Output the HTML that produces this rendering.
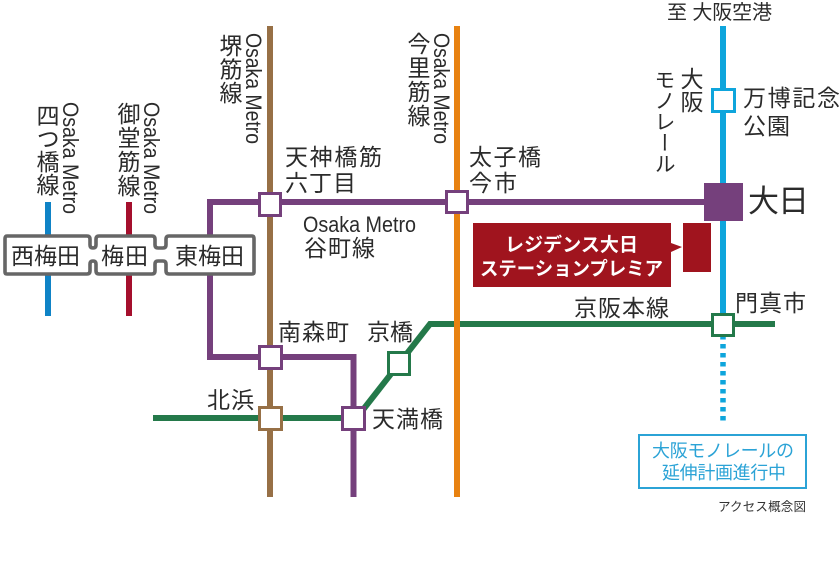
<!DOCTYPE html>
<html lang="ja">
<head>
<meta charset="utf-8">
<style>
html,body{margin:0;padding:0;background:#fff;}
#p{position:relative;width:840px;height:576px;overflow:hidden;background:#fff;font-family:"Liberation Sans","Noto Sans CJK JP",sans-serif;color:#2b2b2b;}
svg{position:absolute;left:0;top:0;}
svg text{font-family:"Liberation Sans","Noto Sans CJK JP",sans-serif;fill:#2b2b2b;}
.v{position:absolute;writing-mode:vertical-rl;font-family:"Noto Sans CJK JP",sans-serif;line-height:1;white-space:nowrap;font-size:23px;}
</style>
</head>
<body>
<div id="p">
<svg width="840" height="576" viewBox="0 0 840 576" xmlns="http://www.w3.org/2000/svg">
  <!-- short lines -->
  <rect x="45" y="202" width="6" height="114" fill="#0f83c6"/>
  <rect x="126" y="202" width="6" height="114" fill="#a50f2d"/>
  <!-- monorail -->
  <rect x="720" y="26" width="6" height="300" fill="#0ea5dc"/>
  <line x1="723" y1="335" x2="723" y2="425" stroke="#0ea5dc" stroke-width="5.5" stroke-dasharray="4.5 4.5"/>
  <!-- brown -->
  <rect x="267" y="26" width="6" height="471" fill="#977046"/>
  <!-- green -->
  <path d="M153 418H353" fill="none" stroke="#24794a" stroke-width="6"/>
  <path d="M355 420L430 324H775" fill="none" stroke="#24794a" stroke-width="6"/>
  <!-- orange -->
  <rect x="454" y="26" width="6" height="471" fill="#e88211"/>
  <!-- purple -->
  <path d="M710 202H210V357H353.5V497" fill="none" stroke="#75407c" stroke-width="6"/>
  <!-- Umeda box -->
  <path d="M7 236H87Q90 236 90 239V245Q90 248 93 248 Q96 248 96 245V239Q96 236 99 236H152Q155 236 155 239V245Q155 248 158 248H163Q166 248 166 245V239Q166 236 169 236H252Q254 236 254 239V272Q254 274 252 274H169Q166 274 166 271V264Q166 261 163 261H158Q155 261 155 264V271Q155 274 152 274H99Q96 274 96 271V264Q96 261 93 261 Q90 261 90 264V271Q90 274 87 274H7Q5 274 5 272V239Q5 236 7 236Z" fill="#fff" stroke="#666" stroke-width="3.6" stroke-linejoin="round"/>
  <!-- stations -->
  <rect x="259.5" y="193.5" width="21" height="22" fill="#fff" stroke="#75407c" stroke-width="3"/>
  <rect x="446.5" y="191.500" width="21" height="21" fill="#fff" stroke="#75407c" stroke-width="3"/>
  <rect x="259.5" y="346.500" width="22" height="22" fill="#fff" stroke="#75407c" stroke-width="3"/>
  <rect x="259.5" y="407.500" width="22" height="22" fill="#fff" stroke="#977046" stroke-width="3"/>
  <rect x="342.500" y="407.500" width="22" height="22" fill="#fff" stroke="#75407c" stroke-width="3"/>
  <rect x="388.500" y="352.500" width="21" height="22" fill="#fff" stroke="#24794a" stroke-width="3"/>
  <rect x="712.500" y="314.500" width="21" height="21" fill="#fff" stroke="#24794a" stroke-width="3"/>
  <rect x="712.500" y="89.500" width="22" height="22" fill="#fff" stroke="#0ea5dc" stroke-width="3"/>
  <rect x="704" y="183" width="39" height="38" fill="#75407c"/>
  <!-- callout -->
  <path d="M473 223H671V243L682 247L671 252V287H473Z" fill="#a0141e"/>
  <rect x="683" y="223" width="28" height="49" fill="#a0141e"/>
  <text x="505" y="251" font-size="19" font-weight="700" textLength="133" lengthAdjust="spacing" style="fill:#fff">レジデンス大日</text>
  <text x="480" y="275" font-size="19" font-weight="700" textLength="183" lengthAdjust="spacingAndGlyphs" style="fill:#fff">ステーションプレミア</text>
  <!-- Umeda labels -->
  <text x="11" y="264" font-size="23" textLength="69">西梅田</text>
  <text x="101" y="264" font-size="23" textLength="47">梅田</text>
  <text x="175" y="264" font-size="23" textLength="69">東梅田</text>
  <!-- Osaka Metro rotated -->
  <text transform="translate(63,102) rotate(90)" font-size="22" textLength="112" lengthAdjust="spacingAndGlyphs">Osaka Metro</text>
  <text transform="translate(144,102) rotate(90)" font-size="22" textLength="112" lengthAdjust="spacingAndGlyphs">Osaka Metro</text>
  <text transform="translate(246,33) rotate(90)" font-size="22" textLength="111" lengthAdjust="spacingAndGlyphs">Osaka Metro</text>
  <text transform="translate(434,33) rotate(90)" font-size="22" textLength="111" lengthAdjust="spacingAndGlyphs">Osaka Metro</text>
  <!-- horizontal labels -->
  <text x="285" y="165" font-size="23" textLength="97">天神橋筋</text>
  <text x="285" y="191" font-size="23" textLength="71">六丁目</text>
  <text x="469" y="165" font-size="23" textLength="72">太子橋</text>
  <text x="469" y="191" font-size="23" textLength="48">今市</text>
  <text x="303" y="232" font-size="22" textLength="113" lengthAdjust="spacingAndGlyphs">Osaka Metro</text>
  <text x="304" y="256" font-size="23" textLength="71">谷町線</text>
  <text x="743" y="106" font-size="23" textLength="97">万博記念</text>
  <text x="743" y="134" font-size="23" textLength="47">公園</text>
  <text x="748" y="212" font-size="31" textLength="61">大日</text>
  <text x="667" y="19" font-size="20" textLength="105" xml:space="preserve">至 大阪空港</text>
  <text x="735" y="311" font-size="23" textLength="71">門真市</text>
  <text x="574" y="316" font-size="23" textLength="95">京阪本線</text>
  <text x="278" y="340" font-size="23" textLength="71">南森町</text>
  <text x="367" y="340" font-size="23" textLength="46">京橋</text>
  <text x="207" y="408" font-size="23" textLength="47">北浜</text>
  <text x="372" y="427" font-size="23" textLength="71">天満橋</text>
  <!-- note box -->
  <rect x="639" y="435" width="167" height="53" fill="#fff" stroke="#2ba3d6" stroke-width="2"/>
  <text x="652" y="457" font-size="18" textLength="142" style="fill:#2ba3d6">大阪モノレールの</text>
  <text x="662" y="479" font-size="18" textLength="124" style="fill:#2ba3d6">延伸計画進行中</text>
  <text x="718" y="511" font-size="12.500" textLength="88" style="fill:#333">アクセス概念図</text>
</svg>
<div class="v" style="left:36px;top:104px;">四つ橋線</div>
<div class="v" style="left:117px;top:102px;letter-spacing:1px;">御堂筋線</div>
<div class="v" style="left:219px;top:34px;letter-spacing:.5px;">堺筋線</div>
<div class="v" style="left:407px;top:32px;letter-spacing:1px;">今里筋線</div>
<div class="v" style="left:680px;top:67px;">大阪</div>
<div class="v" style="left:654px;top:69px;font-size:21px;">モノレール</div>
</div>
</body>
</html>
